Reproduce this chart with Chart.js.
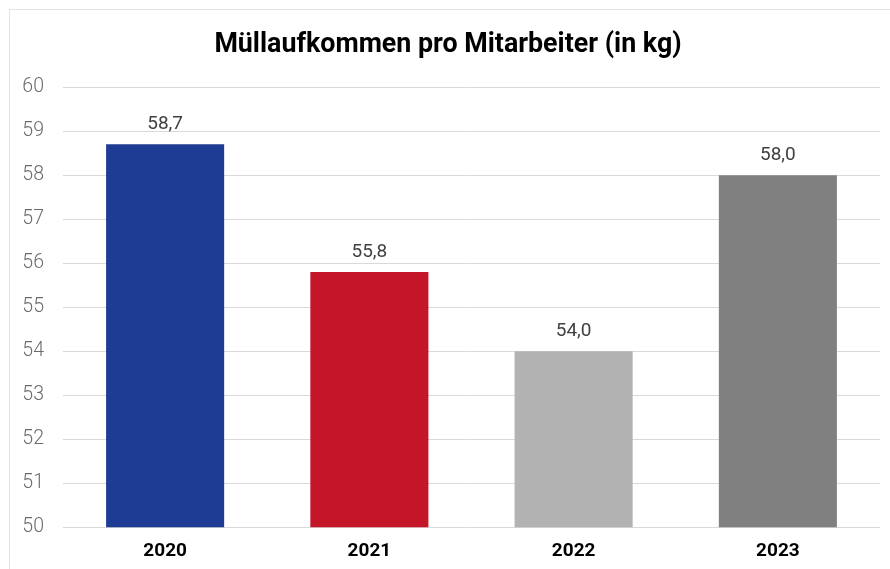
<!DOCTYPE html>
<html>
<head>
<meta charset="utf-8">
<script src="https://cdn.jsdelivr.net/npm/chart.js@4"></script>
<style>
  html, body { margin: 0; padding: 0; background: #fff; }
  #wrap { width: 890px; height: 569px; position: relative; }
</style>
</head>
<body>
<div id="wrap"><canvas id="chart"></canvas></div>
<script>
// ================= DATA =================
const years = ["2020", "2021", "2022", "2023"];
const wastePerEmployee = [58.7, 55.8, 54.0, 58.0];
const barColors = ["#1f3c94", "#c41628", "#b1b2b1", "#808080"];
const chartTitle = "Müllaufkommen pro Mitarbeiter (in kg)";

// ================= PLUGINS =================
const frame = {
  id: "frame",
  beforeDraw(chart) {
    const ctx = chart.ctx;
    ctx.save();
    ctx.fillStyle = "#fff";
    ctx.fillRect(0, 0, chart.width, chart.height);
    ctx.strokeStyle = "#e3e3e3";
    ctx.lineWidth = 1;
    ctx.strokeRect(9.5, 9.5, chart.width, chart.height);
    ctx.restore();
  }
};

const valueLabels = {
  id: "valueLabels",
  afterDatasetsDraw(chart) {
    const ctx = chart.ctx;
    const meta = chart.getDatasetMeta(0);
    ctx.save();
    ctx.font = "19px Roboto";
    ctx.fillStyle = "#404040";
    ctx.textAlign = "center";
    ctx.textBaseline = "alphabetic";
    meta.data.forEach((bar, i) => {
      const v = chart.data.datasets[0].data[i];
      ctx.fillText(v.toFixed(1).replace(".", ","), bar.x, bar.y - 15);
    });
    ctx.restore();
  }
};

// ================= CHART =================
new Chart(document.getElementById("chart"), {
  type: "bar",
  data: {
    labels: years,
    datasets: [{
      data: wastePerEmployee,
      backgroundColor: barColors,
      borderWidth: 0,
      categoryPercentage: 1,
      barPercentage: 0.578
    }]
  },
  options: {
    responsive: true,
    maintainAspectRatio: false,
    animation: false,
    layout: { padding: { left: 16, right: 10, top: 0, bottom: -7 } },
    plugins: {
      legend: { display: false },
      tooltip: { enabled: false },
      title: {
        display: true,
        text: chartTitle,
        color: "#000",
        font: { family: "Roboto", size: 26.8, weight: "bold" },
        padding: { top: 29.5, bottom: 25.5 }
      }
    },
    scales: {
      x: {
        grid: { display: false, drawTicks: false },
        border: { display: false },
        ticks: {
          color: "#000",
          font: { family: "Roboto", size: 19, weight: "bold" },
          padding: 13
        }
      },
      y: {
        min: 50,
        max: 60,
        afterFit(scale) { scale.width = 47; },
        grid: { color: "#d9d9d9", drawTicks: false },
        border: { display: false },
        ticks: {
          stepSize: 1,
          color: "#6b6b6b",
          font: { family: "Roboto", size: 19.5, weight: 300 },
          padding: 19
        }
      }
    }
  },
  plugins: [frame, valueLabels]
});
</script>
</body>
</html>
